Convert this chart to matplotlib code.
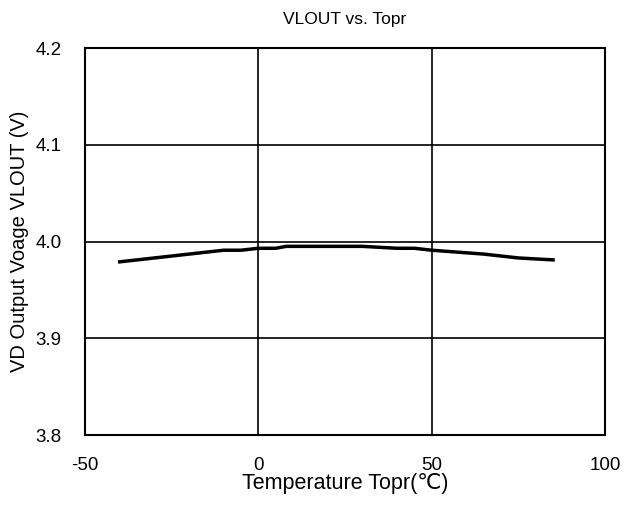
import matplotlib
matplotlib.use("Agg")
import matplotlib.pyplot as plt

# VLOUT vs. Topr data
temp_c = [-40, -10, -5, 0, 5, 8, 30, 40, 45, 50, 65, 75, 85]
vlout_v = [3.979, 3.991, 3.991, 3.993, 3.993, 3.995, 3.995, 3.993, 3.993, 3.991, 3.987, 3.983, 3.981]

x_ticks = [-50, 0, 50, 100]
y_ticks = [3.8, 3.9, 4.0, 4.1, 4.2]

plt.rcParams['font.family'] = ['Liberation Sans', 'DejaVu Sans']
plt.rcParams['axes.unicode_minus'] = False

fig = plt.figure(figsize=(6.27, 5.07), dpi=100)
ax = fig.add_axes([0.1356, 0.142, 0.8294, 0.7633])

ax.plot(temp_c, vlout_v, color='black', linewidth=2.5, zorder=3)

ax.set_xlim(-50, 100)
ax.set_ylim(3.8, 4.2)
ax.set_xticks(x_ticks)
ax.set_yticks(y_ticks)
ax.set_yticklabels([f'{v:.1f}' for v in y_ticks])
ax.grid(True, color='black', linewidth=1.2)
ax.tick_params(length=0, labelsize=13.5)
ax.tick_params(axis='x', pad=16)
ax.tick_params(axis='y', pad=17)
for s in ax.spines.values():
    s.set_linewidth(1.5)

ax.set_title('VLOUT vs. Topr', fontsize=12.5, pad=17)
ax.set_xlabel('Temperature Topr(\u2103)', fontsize=15.5, labelpad=-1)
ax.set_ylabel('VD Output Voage VLOUT (V)', fontsize=14.5, labelpad=4.5)

fig.savefig('out.png', dpi=100)
